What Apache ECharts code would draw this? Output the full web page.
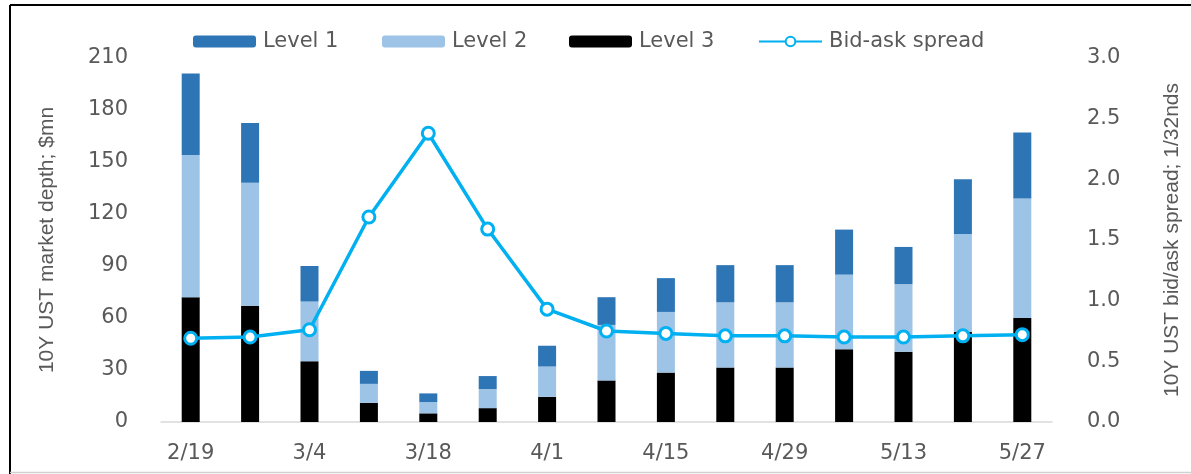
<!DOCTYPE html>
<html>
<head>
<meta charset="utf-8">
<script src="https://cdn.jsdelivr.net/npm/echarts@6/dist/echarts.min.js"></script>
<style>
html,body{margin:0;padding:0;background:#fff;}
#chart{width:1191px;height:474px;}
</style>
</head>
<body>
<div id="chart"></div>
<script>
const categories = ['2/19','2/26','3/4','3/11','3/18','3/25','4/1','4/8','4/15','4/22','4/29','5/6','5/13','5/20','5/27'];
const level3 = [72, 67, 35, 11, 5, 8, 14.5, 24, 28.5, 31.5, 31.5, 42, 40.5, 52, 60];
const level2 = [82, 71, 34.5, 11, 6.5, 11, 17.5, 32, 35, 37.5, 37.5, 43, 39, 56.5, 69];
const level1 = [47, 34.5, 20.5, 7.5, 5, 7.5, 12, 16, 19.5, 21.5, 21.5, 26, 21.5, 31.5, 38];
const spread = [0.69, 0.70, 0.76, 1.69, 2.38, 1.59, 0.93, 0.75, 0.73, 0.71, 0.71, 0.70, 0.70, 0.71, 0.72];

const chart = echarts.init(document.getElementById('chart'));
const txt = '#595959';
const tickFont = {color: txt, fontFamily: 'DejaVu Sans', fontSize: 21};
const legendBase = {top: 26, itemWidth: 63, itemHeight: 12, itemGap: 0,
  textStyle: {color: txt, fontFamily: 'DejaVu Sans', fontSize: 21, padding: [0,0,0,2]}};

chart.setOption({
  animation: false,
  grid: {left: 161, right: 124, top: 58, bottom: 52},
  legend: [
    Object.assign({left: 188, data: ['Level 1']}, legendBase),
    Object.assign({left: 377, data: ['Level 2']}, legendBase),
    Object.assign({left: 564, data: ['Level 3']}, legendBase),
    Object.assign({left: 753, data: ['Bid-ask spread'], itemWidth: 67}, legendBase)
  ],
  xAxis: {
    type: 'category', data: categories,
    axisLine: {lineStyle: {color: '#d9d9d9', width: 1.5}},
    axisTick: {show: false},
    axisLabel: Object.assign({interval: 1, margin: 21}, tickFont)
  },
  yAxis: [
    {type: 'value', min: 0, max: 210, interval: 30,
     splitLine: {show: false}, axisLine: {show: false}, axisTick: {show: false},
     axisLabel: Object.assign({margin: 33}, tickFont),
     name: '10Y UST market depth; $mn', nameLocation: 'middle', nameGap: 103, nameRotate: 90,
     nameTextStyle: {color: txt, fontFamily: 'Liberation Sans', fontSize: 21}},
    {type: 'value', min: 0, max: 3, interval: 0.5,
     splitLine: {show: false}, axisLine: {show: false}, axisTick: {show: false},
     axisLabel: Object.assign({margin: 35, formatter: v => v.toFixed(1)}, tickFont),
     name: '10Y UST bid/ask spread; 1/32nds', nameLocation: 'middle', nameGap: 110, nameRotate: 90,
     nameTextStyle: {color: txt, fontFamily: 'Liberation Sans', fontSize: 21}}
  ],
  series: [
    {name: 'Level 3', type: 'bar', stack: 'd', data: level3, barWidth: 18, itemStyle: {color: '#000000'}},
    {name: 'Level 2', type: 'bar', stack: 'd', data: level2, barWidth: 18, itemStyle: {color: '#9DC3E6'}},
    {name: 'Level 1', type: 'bar', stack: 'd', data: level1, barWidth: 18, itemStyle: {color: '#2E75B6'}},
    {name: 'Bid-ask spread', type: 'line', yAxisIndex: 1, data: spread,
     symbol: 'circle', symbolSize: 12,
     lineStyle: {color: '#00B0F0', width: 3.5},
     itemStyle: {color: '#ffffff', borderColor: '#00B0F0', borderWidth: 3}}
  ],
  graphic: [
    {type: 'line', shape: {x1: 10, y1: 5, x2: 1191, y2: 5}, style: {stroke: '#000', lineWidth: 2}},
    {type: 'line', shape: {x1: 10, y1: 5, x2: 10, y2: 474}, style: {stroke: '#000', lineWidth: 2}},
    {type: 'line', shape: {x1: 10, y1: 472.5, x2: 1191, y2: 472.5}, style: {stroke: '#d0d0d0', lineWidth: 1.5}}
  ]
});
</script>
</body>
</html>
